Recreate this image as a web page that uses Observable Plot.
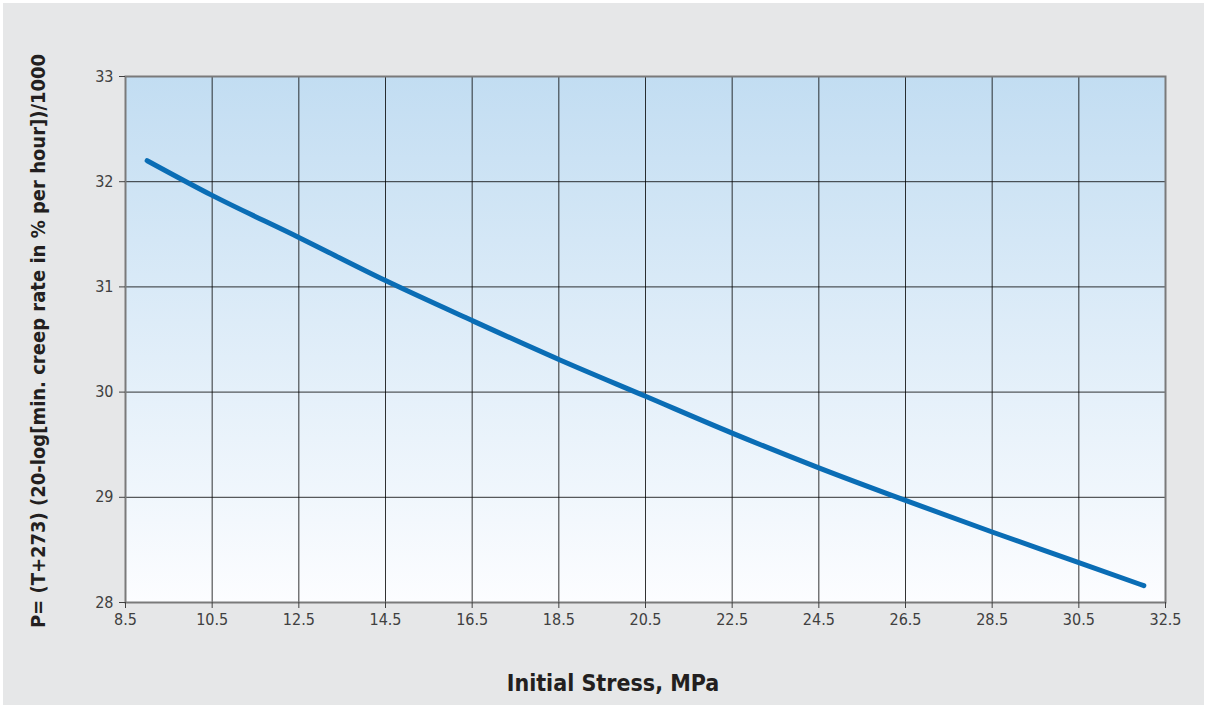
<!DOCTYPE html>
<html>
<head>
<meta charset="utf-8">
<script src="https://cdn.jsdelivr.net/npm/d3@7"></script>
<script src="https://cdn.jsdelivr.net/npm/@observablehq/plot@0.6"></script>
<style>
  html, body { margin: 0; padding: 0; background: #ffffff; }
  #wrap { position: relative; width: 1207px; height: 708px; overflow: hidden;
          font-family: "DejaVu Sans", sans-serif; font-stretch: condensed; }
  #panel { position: absolute; left: 3px; top: 3px; width: 1201px; height: 702px; background: #e6e7e8; }
  #chart { position: absolute; left: 0; top: 0; }
  .ylab { position: absolute; left: 38px; top: 341px; transform: translate(-50%, -50%) rotate(-90deg);
          white-space: nowrap; font-weight: bold; font-size: 20px; color: #231f20; font-stretch: condensed; }
  .xlab { position: absolute; left: 613px; top: 683px; transform: translate(-50%, -50%);
          white-space: nowrap; font-weight: bold; font-size: 23px; color: #231f20; font-stretch: condensed; }
  #chart svg text { font-stretch: condensed; }
</style>
</head>
<body>
<div id="wrap">
  <div id="panel"></div>
  <div id="chart"></div>
  <div class="ylab">P= (T+273) (20-log[min. creep rate in % per hour])/1000</div>
  <div class="xlab">Initial Stress, MPa</div>
</div>
<script>
const stress = [9.0, 10.5, 12.5, 14.5, 16.5, 18.5, 20.5, 22.5, 24.5, 26.5, 28.5, 30.5, 32.0];
const pValue = [32.20, 31.87, 31.47, 31.06, 30.68, 30.31, 29.96, 29.61, 29.28, 28.97, 28.67, 28.38, 28.16];
const xTicks = [8.5, 10.5, 12.5, 14.5, 16.5, 18.5, 20.5, 22.5, 24.5, 26.5, 28.5, 30.5, 32.5];
const yTicks = [28, 29, 30, 31, 32, 33];

const data = stress.map((s, i) => ({stress: s, p: pValue[i]}));

const gradientDefs = () => {
  const defs = d3.create("svg:defs");
  const g = defs.append("linearGradient").attr("id", "bgGrad")
    .attr("x1", 0).attr("y1", 0).attr("x2", 0).attr("y2", 1);
  g.append("stop").attr("offset", "0%").attr("stop-color", "#c2ddf2");
  g.append("stop").attr("offset", "100%").attr("stop-color", "#fcfdff");
  return defs.node();
};

const chart = Plot.plot({
  width: 1207,
  height: 708,
  marginLeft: 125,
  marginRight: 42,
  marginTop: 76,
  marginBottom: 106,
  style: {background: "transparent", fontFamily: "'DejaVu Sans', sans-serif"},
  x: {domain: [8.5, 32.5]},
  y: {domain: [28, 33]},
  marks: [
    gradientDefs,
    Plot.frame({fill: "url(#bgGrad)", stroke: "none"}),
    Plot.gridX(xTicks, {stroke: "#000", strokeOpacity: 0.8, strokeWidth: 1}),
    Plot.gridY(yTicks, {stroke: "#000", strokeOpacity: 0.8, strokeWidth: 1}),
    Plot.frame({stroke: "#7a7a7a", strokeWidth: 2}),
    Plot.axisX(xTicks, {tickSize: 6, tickPadding: 5, fontSize: 16, color: "#404040", label: null,
      tickFormat: d => d.toFixed(1)}),
    Plot.axisY(yTicks, {tickSize: 6, tickPadding: 6, fontSize: 16, color: "#404040", label: null,
      tickFormat: d => String(d)}),
    Plot.line(data, {x: "stress", y: "p", stroke: "#0a6db5", strokeWidth: 5,
      curve: "monotone-x", strokeLinecap: "round"})
  ]
});
document.getElementById("chart").appendChild(chart);
</script>
</body>
</html>
